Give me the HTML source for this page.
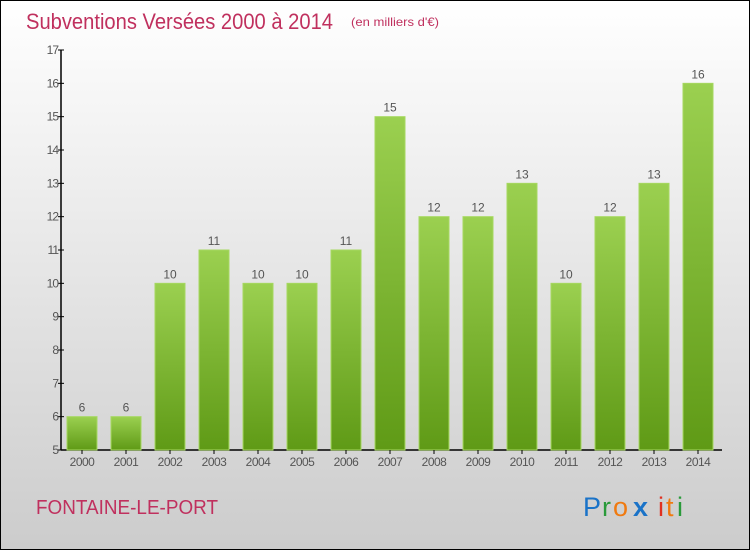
<!DOCTYPE html>
<html><head><meta charset="utf-8"><style>
body{margin:0;width:750px;height:550px;overflow:hidden;font-family:"Liberation Sans",sans-serif}
</style></head><body>
<svg id="c" width="750" height="550" xmlns="http://www.w3.org/2000/svg">
<defs>
<linearGradient id="bg" x1="0" y1="0" x2="0" y2="1"><stop offset="0" stop-color="#ffffff"/><stop offset="1" stop-color="#cccccc"/></linearGradient>
<linearGradient id="bar" x1="0" y1="0" x2="0" y2="1"><stop offset="0" stop-color="#9bd050"/><stop offset="1" stop-color="#5f9a16"/></linearGradient>
</defs>
<rect x="0.5" y="0.5" width="749" height="549" fill="url(#bg)" stroke="#000"/>
<text x="26" y="29" font-size="22" fill="#c0305e" textLength="307" lengthAdjust="spacingAndGlyphs">Subventions Versées 2000 à 2014</text>
<text x="351" y="26" font-size="12" fill="#c0305e" textLength="88" lengthAdjust="spacingAndGlyphs">(en milliers d'€)</text>
<text x="36" y="514" font-size="20" fill="#c0305e" textLength="182" lengthAdjust="spacingAndGlyphs">FONTAINE-LE-PORT</text>
<g font-size="27">
<text x="583" y="516" fill="#1a73c8">P</text><text x="602" y="516" fill="#2a9a3a">r</text><text x="613" y="516" fill="#f07a10">o</text><text x="633" y="516" fill="#1a73c8" font-weight="bold">x</text><text x="658" y="516" fill="#e03020">i</text><text x="666" y="516" fill="#f07a10">t</text><text x="677" y="516" fill="#2a9a3a">i</text>
</g>
<g id="g"></g>
</svg>
<script>
const years=["2000","2001","2002","2003","2004","2005","2006","2007","2008","2009","2010","2011","2012","2013","2014"];
const values=[6,6,10,11,10,10,11,15,12,12,13,10,12,13,16];
const yTicks=[5,6,7,8,9,10,11,12,13,14,15,16,17];
const NS="http://www.w3.org/2000/svg",g=document.getElementById('g');
const y=v=>450-(v-5)*(400/12);
const x=i=>82+i*44;
function el(t,a,txt){const e=document.createElementNS(NS,t);for(const k in a)e.setAttribute(k,a[k]);if(txt!=null)e.textContent=txt;g.appendChild(e);return e;}
let e=el('line',{x1:61,y1:y(17),x2:61,y2:450,stroke:'#000','stroke-width':1.5});


e=el('line',{x1:61,y1:450,x2:722,y2:450,stroke:'#000','stroke-width':1.5});


yTicks.forEach(t=>{
 let l=el('line',{x1:58,y1:y(t),x2:64,y2:y(t),stroke:'#000'});
 
 
 let tx=el('text',{x:58,y:y(t)+4,'font-size':12,fill:'#555','text-anchor':'end','letter-spacing':'-1'},t);
 
 
});
years.forEach((yr,i)=>{
 const v=values[i];
 let r=el('rect',{x:x(i)-15,y:y(v),width:30,height:450-y(v),fill:'url(#bar)',stroke:'#a6d860','stroke-width':1});
 
 
 let l=el('text',{x:x(i),y:y(v)-5,'font-size':12,fill:'#555','text-anchor':'middle'},v);
 
 
 let t=el('text',{x:x(i),y:466,'font-size':12,fill:'#555','text-anchor':'middle','letter-spacing':'-0.5'},yr);
 
 
 let tk=el('line',{x1:x(i),y1:450,x2:x(i),y2:454,stroke:'#000'});
 
 
});
</script>
</body></html>
